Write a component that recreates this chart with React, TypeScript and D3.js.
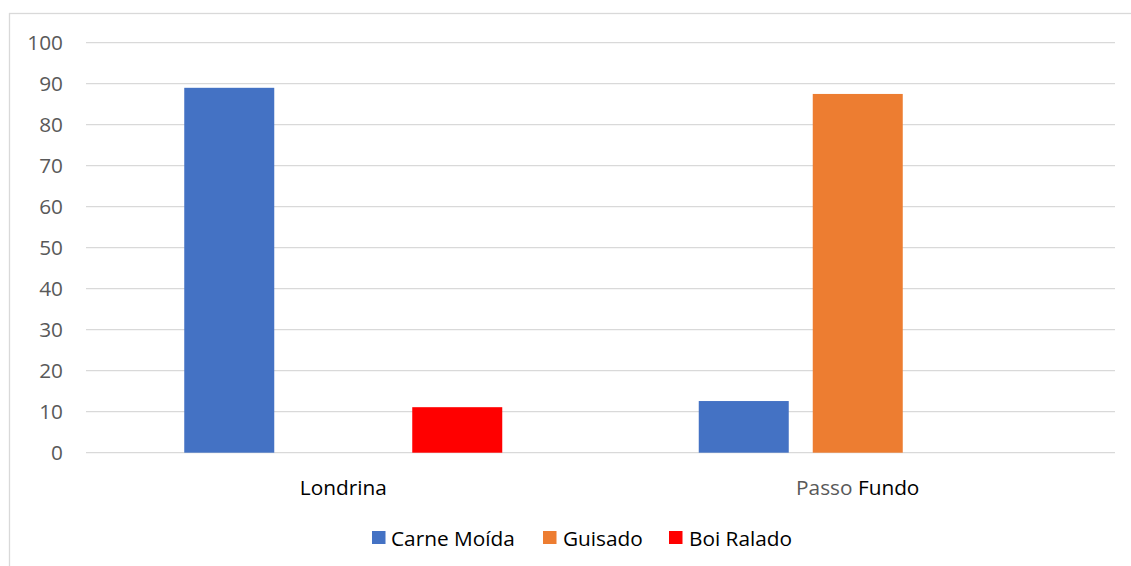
import React from "react";
import * as d3 from "d3";

const categories = ["Londrina", "Passo Fundo"];
const seriesNames = ["Carne Moída", "Guisado", "Boi Ralado"];
const seriesColors = ["#4472C4", "#ED7D31", "#FF0000"];
// values per series, in category order (null = no bar)
const carneMoida = [89, 12.6];
const guisado = [null, 87.5];
const boiRalado = [11.1, null];
const yTicks = [0, 10, 20, 30, 40, 50, 60, 70, 80, 90, 100];

const W = 1131;
const H = 566;
const FONT = "'Open Sans', 'Noto Sans', sans-serif";
const FS = 20.8;

export default function App() {
  const seriesValues = [carneMoida, guisado, boiRalado];
  const plotLeft = 86;
  const plotRight = 1115;
  const y = d3.scaleLinear().domain([0, 100]).range([452.7, 42.7]);
  const x0 = d3.scaleBand<string>().domain(categories).range([plotLeft, plotRight]).paddingInner(0).paddingOuter(0);
  const groupWidth = 318;
  const x1 = d3
    .scaleBand<string>()
    .domain(seriesNames)
    .range([0, groupWidth])
    .paddingInner(24 / 114)
    .paddingOuter(0);

  const legendItems = [
    { name: seriesNames[0], sx: 372, tx: 391 },
    { name: seriesNames[1], sx: 543, tx: 563 },
    { name: seriesNames[2], sx: 669, tx: 689 },
  ];

  return (
    <svg
      width={W}
      height={H}
      style={{ position: "absolute", left: 0, top: 0, background: "#fff" }}
      fontFamily={FONT}
    >
      <rect x={9.5} y={13.5} width={1300} height={700} fill="#fff" stroke="#d9d9d9" strokeWidth={1.3} />
      {yTicks.map((t) => (
        <g key={t}>
          <line x1={plotLeft} x2={plotRight} y1={y(t)} y2={y(t)} stroke="#d9d9d9" strokeWidth={1.3} />
          <text x={63} y={y(t)} dy="0.36em" textAnchor="end" fontSize={FS} fill="#595959">
            {t}
          </text>
        </g>
      ))}
      {categories.map((c, ci) => {
        const gx = (x0(c) as number) + (x0.bandwidth() - groupWidth) / 2;
        return (
          <g key={c}>
            {seriesNames.map((s, si) => {
              const v = seriesValues[si][ci];
              if (v == null) return null;
              return (
                <rect
                  key={s}
                  x={gx + (x1(s) as number)}
                  y={y(v)}
                  width={x1.bandwidth()}
                  height={y(0) - y(v)}
                  fill={seriesColors[si]}
                />
              );
            })}
          </g>
        );
      })}
      <text x={(x0(categories[0]) as number) + x0.bandwidth() / 2} y={495} textAnchor="middle" fontSize={FS} fill="#000">
        {categories[0]}
      </text>
      <text x={(x0(categories[1]) as number) + x0.bandwidth() / 2} y={495} textAnchor="middle" fontSize={FS}>
        <tspan fill="#595959">{categories[1].split(" ")[0]}</tspan>
        <tspan fill="#000">{" " + categories[1].split(" ")[1]}</tspan>
      </text>
      {legendItems.map((it, i) => (
        <g key={it.name}>
          <rect x={it.sx} y={531} width={13.5} height={13} fill={seriesColors[i]} />
          <text x={it.tx} y={545.5} fontSize={FS} fill="#000">
            {it.name}
          </text>
        </g>
      ))}
    </svg>
  );
}
